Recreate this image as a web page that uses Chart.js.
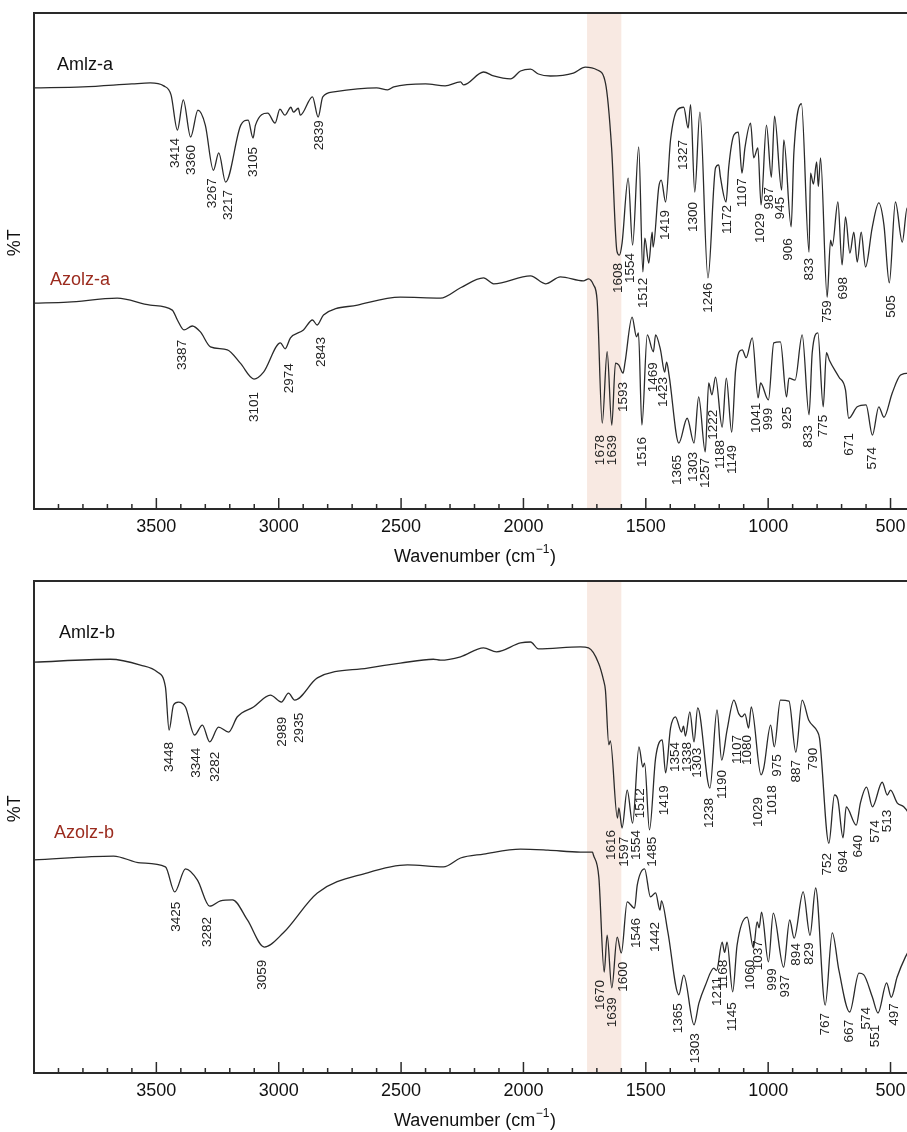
<!DOCTYPE html>
<html>
<head>
<meta charset="utf-8">
<script src="https://cdn.jsdelivr.net/npm/chart.js@4.4.1/dist/chart.umd.min.js"></script>
<style>
  html, body { margin: 0; padding: 0; background: #fff; overflow: hidden; width: 907px; height: 1132px; }
  .panel { position: absolute; left: 0; width: 915px; }
  #p1 { top: 0; height: 570px; }
  #p2 { top: 570px; height: 562px; }
</style>
</head>
<body>
<div class="panel" id="p1"><canvas id="c1"></canvas></div>
<div class="panel" id="p2"><canvas id="c2"></canvas></div>
<script>
// wavenumber ticks and the highlighted C=O / C=N band
const xTicks = [3500, 3000, 2500, 2000, 1500, 1000, 500];
const band = [1740, 1600];

// spectra: [wavenumber (cm-1), %T (offset, arbitrary)]
const amlzA = [[4000,84.9],[3800,85.1],[3600,85.7],[3525,85.9],[3470,85.3],[3440,83.5],[3414,76.4],[3390,82.5],[3360,75.0],[3330,80.4],[3300,77.4],[3267,68.3],[3245,71.8],[3217,65.9],[3155,77.4],[3125,78.4],[3105,74.8],[3095,77.4],[3045,79.8],[3015,77.8],[2995,80.6],[2975,79.4],[2950,81.0],[2940,80.0],[2920,80.8],[2912,79.4],[2862,83.1],[2839,79.0],[2820,83.1],[2775,84.1],[2600,84.9],[2555,84.5],[2530,85.1],[2400,85.7],[2320,85.3],[2257,86.1],[2245,85.5],[2163,88.1],[2122,87.3],[2053,86.7],[2012,88.3],[1971,88.7],[1939,87.7],[1890,87.3],[1796,87.9],[1747,89.1],[1698,88.5],[1665,85.9],[1640,73.0],[1618,52.0],[1608,51.2],[1597,53.6],[1572,66.7],[1554,53.2],[1529,73.0],[1512,47.8],[1504,54.6],[1488,49.6],[1474,55.8],[1470,52.8],[1447,64.9],[1437,66.3],[1419,61.9],[1399,74.4],[1372,80.4],[1345,81.0],[1327,76.8],[1317,81.5],[1300,63.9],[1279,80.0],[1246,46.6],[1215,68.8],[1202,69.4],[1195,66.9],[1172,61.9],[1161,69.0],[1140,75.4],[1122,76.0],[1107,67.7],[1095,72.8],[1072,77.8],[1059,70.8],[1042,72.8],[1029,61.3],[1007,77.4],[987,66.9],[974,79.2],[945,64.3],[936,74.4],[906,56.9],[895,71.8],[864,81.7],[833,51.8],[827,67.7],[815,65.5],[802,70.0],[795,65.0],[786,70.8],[759,42.7],[745,54.2],[738,53.0],[715,61.9],[698,49.2],[684,58.9],[666,51.6],[650,55.8],[636,49.8],[620,55.8],[602,48.8],[575,56.7],[548,61.7],[527,57.3],[505,45.6],[480,61.9],[452,53.8],[432,60.7],[400,58.0]];
const azolzA = [[4000,41.5],[3862,41.7],[3660,42.5],[3525,41.1],[3435,40.1],[3414,38.1],[3387,36.1],[3353,36.9],[3320,35.7],[3279,32.7],[3210,32.1],[3157,29.4],[3101,26.2],[3062,27.6],[2993,33.5],[2974,32.3],[2952,34.5],[2899,36.1],[2862,38.1],[2843,37.1],[2817,39.1],[2678,41.1],[2503,42.7],[2339,42.5],[2257,44.6],[2163,46.6],[2122,45.4],[1971,47.0],[1910,45.4],[1849,46.8],[1755,46.0],[1734,46.4],[1714,45.2],[1699,42.1],[1678,17.3],[1658,31.7],[1639,16.9],[1624,29.4],[1610,29.0],[1593,27.4],[1585,29.5],[1556,38.7],[1538,34.7],[1530,35.5],[1516,16.9],[1494,35.1],[1469,31.7],[1460,35.1],[1440,32.1],[1423,27.6],[1415,29.6],[1405,27.0],[1365,13.3],[1331,18.3],[1303,13.3],[1284,22.6],[1257,11.5],[1243,25.4],[1230,23.0],[1215,26.6],[1188,16.5],[1171,26.4],[1149,15.5],[1133,28.0],[1106,32.1],[1090,30.5],[1065,34.5],[1041,22.4],[1031,25.4],[999,22.0],[977,33.5],[950,33.7],[925,22.6],[915,26.4],[890,26.0],[861,35.1],[833,19.0],[820,31.5],[797,35.5],[775,20.6],[762,31.5],[750,30.0],[711,26.6],[684,24.0],[671,18.3],[636,20.6],[600,21.0],[574,14.9],[548,20.6],[527,18.5],[493,23.4],[459,27.0],[425,27.4],[400,26.5]];
const amlzB = [[4000,83.5],[3688,84.1],[3565,82.9],[3496,81.5],[3463,78.5],[3448,69.7],[3430,74.8],[3410,75.4],[3381,74.4],[3344,68.7],[3312,70.7],[3282,67.3],[3246,70.3],[3205,69.3],[3169,72.4],[3103,74.4],[3034,76.8],[2989,75.4],[2960,77.2],[2935,75.8],[2842,80.3],[2637,82.3],[2503,83.3],[2368,84.1],[2339,83.9],[2257,84.6],[2163,86.4],[2110,85.6],[2012,87.4],[1971,87.6],[1939,86.2],[1767,86.6],[1734,86.4],[1693,83.3],[1673,79.9],[1665,77.8],[1651,66.7],[1645,67.5],[1616,51.8],[1610,53.9],[1597,49.8],[1576,57.5],[1554,50.8],[1528,66.3],[1512,62.2],[1505,63.0],[1485,49.4],[1460,64.0],[1433,67.7],[1419,61.0],[1399,70.1],[1379,72.4],[1354,69.3],[1346,70.5],[1338,68.5],[1320,73.4],[1303,67.3],[1288,74.2],[1238,57.9],[1209,73.8],[1190,63.6],[1168,69.7],[1140,75.8],[1120,73.0],[1107,72.4],[1095,73.0],[1080,70.1],[1069,74.4],[1029,60.6],[1018,62.0],[990,70.7],[975,66.3],[950,75.8],[915,75.6],[887,65.2],[861,75.8],[834,71.7],[800,69.5],[790,68.0],[752,46.7],[729,56.5],[715,55.5],[694,47.8],[681,54.1],[640,50.4],[623,54.9],[598,58.1],[574,54.1],[534,59.1],[513,56.5],[500,57.5],[473,54.9],[446,54.1],[426,52.8],[400,50.0]];
const azolzB = [[4000,43.3],[3675,44.1],[3565,42.7],[3463,41.9],[3425,36.8],[3381,41.5],[3332,39.2],[3282,33.9],[3238,35.0],[3189,35.2],[3128,31.1],[3059,25.6],[2981,28.5],[2842,36.6],[2637,40.7],[2474,42.3],[2327,41.9],[2257,43.7],[2163,44.5],[2012,45.5],[1900,45.3],[1767,44.9],[1718,44.9],[1714,44.3],[1692,39.8],[1670,20.5],[1658,28.0],[1639,17.3],[1617,27.6],[1600,24.4],[1576,34.8],[1546,33.5],[1535,38.2],[1505,41.5],[1481,35.8],[1460,36.6],[1442,33.1],[1436,35.0],[1410,28.7],[1365,15.9],[1345,19.9],[1303,9.8],[1283,14.2],[1256,17.9],[1222,21.3],[1211,20.8],[1188,26.6],[1178,24.5],[1168,26.6],[1145,16.5],[1127,26.0],[1086,31.7],[1060,25.4],[1045,30.7],[1037,29.5],[1027,32.7],[999,22.6],[979,32.5],[937,21.5],[912,31.1],[894,27.4],[857,36.8],[829,28.0],[806,37.6],[767,13.8],[738,28.5],[711,20.9],[667,12.4],[629,20.3],[610,20.0],[574,15.4],[551,12.2],[516,18.3],[497,15.4],[473,19.5],[439,23.6],[400,27.0]];

// peak labels: [text, position (cm-1), %T at the top of the label]
const amlzAPeaks = [['3414',3422,74.8],['3360',3357,73.4],['3267',3271,66.7],['3217',3206,64.3],['3105',3103,73.0],['2839',2834,78.4],['1608',1612,49.6],['1554',1563,51.6],['1512',1509,46.6],['1419',1420,60.3],['1327',1346,74.4],['1300',1305,61.9],['1246',1244,45.6],['1172',1166,61.3],['1107',1105,66.7],['1029',1031,59.7],['987',995,64.9],['945',950,62.9],['906',917,54.6],['833',831,50.6],['759',757,42.1],['698',692,46.8],['505',496,43.1]];
const azolzAPeaks = [['3387',3394,34.1],['3101',3099,23.6],['2974',2956,29.4],['2843',2825,34.7],['1678',1685,14.9],['1639',1636,14.9],['1593',1591,25.6],['1516',1514,14.5],['1469',1469,29.6],['1423',1428,26.6],['1365',1371,10.9],['1303',1305,11.5],['1257',1256,10.3],['1222',1223,20.0],['1188',1195,13.9],['1149',1146,12.9],['1041',1048,21.4],['999',999,20.4],['925',921,20.6],['833',835,16.9],['775',774,19.0],['671',668,15.3],['574',574,12.5]];
const amlzBPeaks = [['3448',3447,67.3],['3344',3336,66.1],['3282',3259,65.3],['2989',2985,72.4],['2935',2915,73.2],['1616',1640,49.4],['1597',1587,48.0],['1554',1538,49.4],['1512',1522,57.9],['1485',1473,48.0],['1419',1424,58.5],['1354',1379,67.3],['1338',1330,67.3],['1303',1289,66.1],['1238',1240,55.9],['1190',1187,61.6],['1107',1125,68.7],['1080',1084,68.7],['1029',1039,56.1],['1018',982,58.5],['975',962,64.8],['887',884,63.6],['790',815,66.1],['752',757,44.7],['694',692,45.3],['640',631,48.4],['574',561,51.4],['513',512,53.5]];
const azolzBPeaks = [['3425',3418,34.8],['3282',3291,31.7],['3059',3067,23.0],['1670',1685,18.9],['1639',1636,15.4],['1600',1591,22.6],['1546',1538,31.5],['1442',1460,30.7],['1365',1366,14.2],['1303',1297,8.1],['1211',1207,19.5],['1168',1183,23.0],['1145',1146,14.4],['1060',1072,23.0],['1037',1039,27.0],['999',982,21.3],['937',929,19.9],['894',884,26.4],['829',831,26.6],['767',766,12.2],['667',668,10.8],['574',598,13.4],['551',561,9.8],['497',484,14.2]];

const FONT = '"Liberation Sans", Arial, Helvetica, sans-serif';
const INK = '#2a2a2a';
const RED = '#9b2b1e';

function toXY(pts) {
  return pts.map(p => ({ x: p[0], y: p[1] }));
}

// band, frame top, inward ticks, peak labels, sample names, axis titles
const decor = {
  id: 'decor',
  beforeDatasetsDraw(chart) {
    const { ctx, chartArea: a, scales: { x } } = chart;
    const x1 = x.getPixelForValue(band[0]);
    const x2 = x.getPixelForValue(band[1]);
    ctx.save();
    ctx.fillStyle = '#f8e9e2';
    ctx.fillRect(x1, a.top + 1, x2 - x1, a.bottom - a.top - 2);
    ctx.restore();
  },
  afterDraw(chart, args, opts) {
    const { ctx, chartArea: a, scales: { x, y } } = chart;
    ctx.save();
    ctx.strokeStyle = INK;
    ctx.lineWidth = 2;
    ctx.beginPath();
    ctx.moveTo(a.left - 1, a.top);
    ctx.lineTo(a.right, a.top);
    ctx.stroke();

    ctx.lineWidth = 1.5;
    for (let w = 500; w < 4000; w += 100) {
      const px = x.getPixelForValue(w);
      const len = w % 500 === 0 ? 11 : 5;
      ctx.beginPath();
      ctx.moveTo(px, a.bottom);
      ctx.lineTo(px, a.bottom - len);
      ctx.stroke();
    }

    ctx.fillStyle = '#222';
    ctx.font = '13.5px ' + FONT;
    ctx.textAlign = 'right';
    ctx.textBaseline = 'middle';
    opts.peaks.forEach(list => list.forEach(([t, w, v]) => {
      ctx.save();
      ctx.translate(x.getPixelForValue(w), y.getPixelForValue(v));
      ctx.rotate(-Math.PI / 2);
      ctx.fillText(t, 0, 0);
      ctx.restore();
    }));

    ctx.font = '18px ' + FONT;
    ctx.textAlign = 'left';
    opts.names.forEach(([t, w, v, c]) => {
      ctx.fillStyle = c;
      ctx.fillText(t, x.getPixelForValue(w), y.getPixelForValue(v));
    });

    // %T
    ctx.fillStyle = '#111';
    ctx.save();
    ctx.translate(15, a.top + 0.463 * (a.bottom - a.top));
    ctx.rotate(-Math.PI / 2);
    ctx.textAlign = 'center';
    ctx.fillText('%T', 0, 0);
    ctx.restore();

    // Wavenumber (cm-1)
    const main = 'Wavenumber (cm', sup = '\u22121', end = ')';
    ctx.font = '18px ' + FONT;
    const w1 = ctx.measureText(main).width, w3 = ctx.measureText(end).width;
    ctx.font = '12px ' + FONT;
    const w2 = ctx.measureText(sup).width;
    let tx = (a.left + a.right) / 2 - (w1 + w2 + w3) / 2;
    const ty = a.bottom + 48;
    ctx.font = '18px ' + FONT;
    ctx.fillText(main, tx, ty);
    ctx.font = '12px ' + FONT;
    ctx.fillText(sup, tx + w1 + 0.5, ty - 7);
    ctx.font = '18px ' + FONT;
    ctx.fillText(end, tx + w1 + w2 + 1, ty);
    ctx.restore();
  }
};

function makeChart(id, padTop, axisH, sets, peaks, names) {
  return new Chart(document.getElementById(id), {
    type: 'line',
    data: {
      datasets: sets.map(s => ({
        data: toXY(s),
        borderColor: INK,
        borderWidth: 1.3,
        pointRadius: 0,
        cubicInterpolationMode: 'monotone',
        fill: false
      }))
    },
    options: {
      responsive: true,
      maintainAspectRatio: false,
      animation: false,
      devicePixelRatio: 1,
      layout: { padding: { top: padTop, right: 0, bottom: 0, left: 0 } },
      plugins: {
        legend: { display: false },
        tooltip: { enabled: false },
        decor: { peaks: peaks, names: names }
      },
      scales: {
        x: {
          type: 'linear',
          reverse: true,
          min: 400,
          max: 4000,
          afterBuildTicks: s => { s.ticks = xTicks.map(v => ({ value: v })); },
          afterFit: s => { s.height = axisH; },
          grid: { display: false, drawTicks: false },
          border: { display: true, color: INK, width: 2 },
          ticks: {
            color: '#111',
            font: { size: 18, family: FONT },
            padding: 7,
            maxRotation: 0,
            autoSkip: false,
            callback: v => String(v)
          }
        },
        y: {
          min: 0,
          max: 100,
          afterFit: s => { s.width = 34; },
          grid: { display: false, drawTicks: false },
          border: { display: true, color: INK, width: 2 },
          ticks: { display: false }
        }
      }
    },
    plugins: [decor]
  });
}

makeChart('c1', 13, 61, [amlzA, azolzA], [amlzAPeaks, azolzAPeaks],
  [['Amlz-a', 3906, 89.5, '#111'], ['Azolz-a', 3935, 46.2, RED]]);
makeChart('c2', 11, 59, [amlzB, azolzB], [amlzBPeaks, azolzBPeaks],
  [['Amlz-b', 3898, 89.4, '#111'], ['Azolz-b', 3918, 48.8, RED]]);
</script>
</body>
</html>
